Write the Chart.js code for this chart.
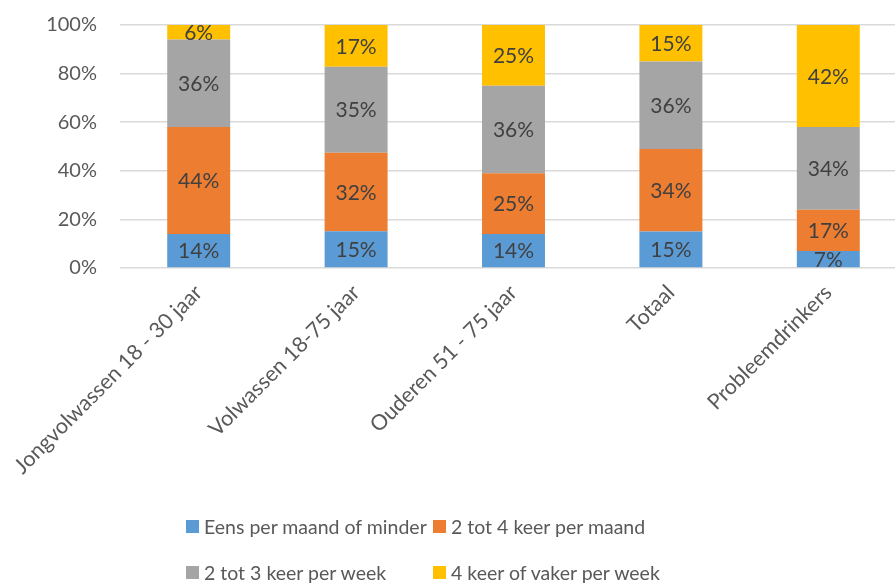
<!DOCTYPE html>
<html>
<head>
<meta charset="utf-8">
<script src="https://cdn.jsdelivr.net/npm/chart.js@4/dist/chart.umd.min.js"></script>
<style>
  html, body { margin: 0; padding: 0; background: #fff; overflow: hidden; }
  #wrap { position: relative; width: 895px; height: 584px; overflow: hidden; }
  #c { position: absolute; left: 0; top: -10px; }
  .lg { position: absolute; font-family: Lato, sans-serif; font-size: 19.5px; color: #595959; white-space: nowrap; line-height: 20px; }
  .lg span.b { position: absolute; left: 0; top: 3px; width: 13px; height: 13px; }
  .lg span.t { position: absolute; left: 18px; top: 0; }
</style>
</head>
<body>
<div id="wrap">
  <canvas id="c" width="907" height="594"></canvas>
  <div id="legend"></div>
</div>
<script>
const categories = ["Jongvolwassen 18 - 30 jaar", "Volwassen 18-75 jaar", "Ouderen 51 - 75 jaar", "Totaal", "Probleemdrinkers"];
const seriesNames = ["Eens per maand of minder", "2 tot 4 keer per maand", "2 tot 3 keer per week", "4 keer of vaker per week"];
const eensPerMaand = [14, 15, 14, 15, 7];
const tweeTotVierPerMaand = [44, 32, 25, 34, 17];
const tweeTotDriePerWeek = [36, 35, 36, 36, 34];
const vierOfVakerPerWeek = [6, 17, 25, 15, 42];
const yTicks = [0, 20, 40, 60, 80, 100];
const colors = ["#5B9BD5", "#ED7D31", "#A5A5A5", "#FFC000"];

const series = [eensPerMaand, tweeTotVierPerMaand, tweeTotDriePerWeek, vierOfVakerPerWeek];
// 100% stacked: share of each category total
const totals = categories.map((_, i) => series.reduce((s, arr) => s + arr[i], 0));

const FONT = "Lato, sans-serif";

const labelPlugin = {
  id: "segLabels",
  afterDatasetsDraw(chart) {
    const ctx = chart.ctx;
    ctx.save();
    ctx.font = "21px " + FONT;
    ctx.fillStyle = "#404040";
    ctx.textAlign = "center";
    ctx.textBaseline = "middle";
    chart.data.datasets.forEach((ds, di) => {
      const meta = chart.getDatasetMeta(di);
      meta.data.forEach((el, i) => {
        const y = (el.y + el.base) / 2;
        ctx.fillText(ds.rawValues[i] + "%", el.x, y + 1);
      });
    });
    ctx.restore();
  }
};

new Chart(document.getElementById("c"), {
  type: "bar",
  data: {
    labels: categories,
    datasets: series.map((arr, k) => ({
      label: seriesNames[k],
      data: arr.map((v, i) => v / totals[i] * 100),
      rawValues: arr,
      backgroundColor: colors[k],
      borderWidth: 0,
      barPercentage: 0.4,
      categoryPercentage: 1.0
    }))
  },
  options: {
    responsive: false,
    animation: false,
    layout: { padding: { top: 13, right: 0, bottom: 0, left: 0 } },
    plugins: { legend: { display: false }, tooltip: { enabled: false } },
    scales: {
      x: {
        stacked: true,
        grid: { display: false },
        border: { display: false },
        ticks: {
          color: "#595959",
          font: { family: FONT, size: 21.5 },
          maxRotation: 45, minRotation: 45,
          padding: 4
        },
        afterFit(scale) { scale.height = 316; }
      },
      y: {
        stacked: true,
        min: 0, max: 100,
        afterBuildTicks(scale) { scale.ticks = yTicks.map(v => ({ value: v })); },
        grid: { color: "#D9D9D9", lineWidth: 1.5, drawTicks: false },
        border: { display: false },
        ticks: {
          color: "#595959",
          font: { family: FONT, size: 20 },
          padding: 23,
          callback: v => v + "%"
        },
        afterFit(scale) { scale.width = 120; }
      }
    }
  },
  plugins: [labelPlugin]
});

// Legend (two aligned columns, like the reference)
const legendPos = [[186, 517], [433, 517], [186, 563], [433, 563]];
const lg = document.getElementById("legend");
seriesNames.forEach((name, k) => {
  const d = document.createElement("div");
  d.className = "lg";
  d.style.left = legendPos[k][0] + "px";
  d.style.top = legendPos[k][1] + "px";
  d.innerHTML = '<span class="b" style="background:' + colors[k] + '"></span><span class="t"></span>';
  d.querySelector(".t").textContent = name;
  lg.appendChild(d);
});
</script>
</body>
</html>
